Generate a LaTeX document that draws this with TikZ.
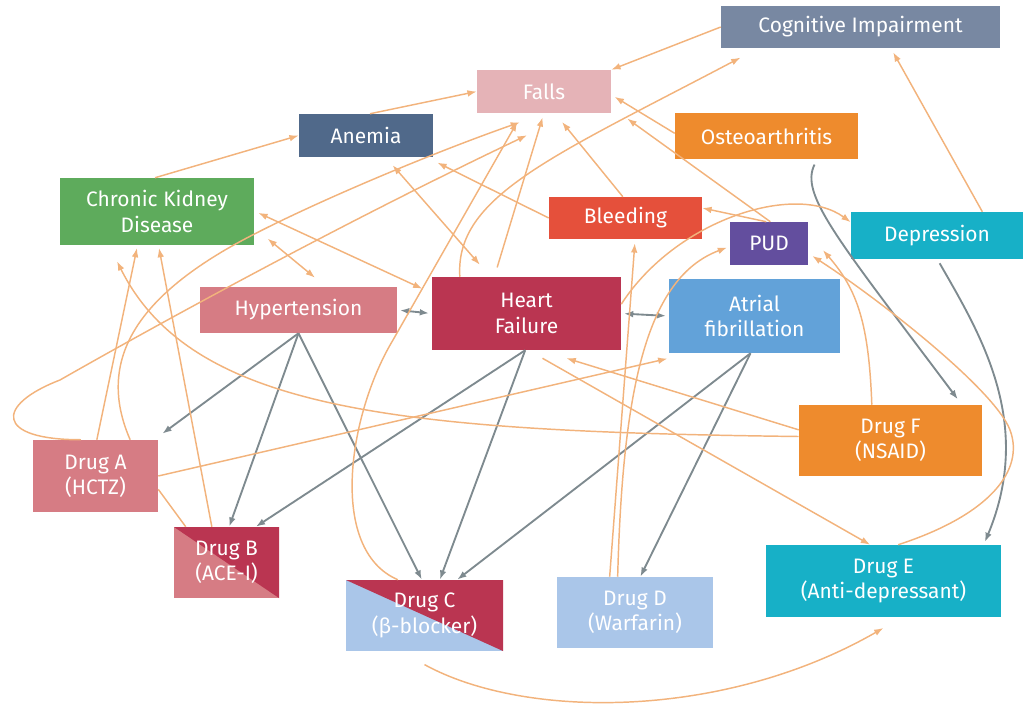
\documentclass[tikz,border=0pt]{standalone}
\usepackage{fontspec}
\setmainfont{Fira Sans}
\usetikzlibrary{arrows.meta}
\definecolor{cogcol}{HTML}{7888A2}
\definecolor{fallcol}{HTML}{E5B3B7}
\definecolor{anecol}{HTML}{50698A}
\definecolor{orgcol}{HTML}{EE8B2D}
\definecolor{ckdcol}{HTML}{5EAB5C}
\definecolor{bleedcol}{HTML}{E5503B}
\definecolor{pudcol}{HTML}{634E9E}
\definecolor{cyancol}{HTML}{17B0C7}
\definecolor{htncol}{HTML}{D67C84}
\definecolor{hfcol}{HTML}{BA3551}
\definecolor{afcol}{HTML}{62A2D9}
\definecolor{paleblue}{HTML}{AAC6E9}
\definecolor{linkorange}{HTML}{F2B37C}
\definecolor{linkgray}{HTML}{7E8A8F}

\begin{document}
\begin{tikzpicture}[
  x=0.75pt,y=-0.75pt,
  box/.style={rectangle,align=center,text=white,inner sep=1pt,
    font=\fontsize{15.7}{19}\selectfont},
  halfhf/.style={path picture={\fill[hfcol]
    (path picture bounding box.north west) --
    (path picture bounding box.north east) --
    (path picture bounding box.south east) -- cycle;}},
  arr/.style={-{Latex[length=7pt,width=5pt]},linkgray,line width=1.4pt},
  rel/.style={-{Latex[length=7pt,width=5pt]},linkorange,line width=1.1pt}
]
\useasboundingbox (0,0) rectangle (1026,715);

% conditions
\node[box,fill=cogcol,minimum width=209.25pt,minimum height=31.5pt] (cog) at (860.5,27) {Cognitive Impairment};
\node[box,fill=fallcol,minimum width=100.5pt,minimum height=32.25pt] (falls) at (544,91.5) {Falls};
\node[box,fill=anecol,minimum width=100.5pt,minimum height=32.25pt] (anemia) at (366,135.5) {Anemia};
\node[box,fill=orgcol,minimum width=137.25pt,minimum height=34.5pt] (osteo) at (766.5,136) {Osteoarthritis};
\node[box,fill=ckdcol,minimum width=145.5pt,minimum height=50.25pt] (ckd) at (157,211.5) {Chronic Kidney\\Disease};
\node[box,fill=bleedcol,minimum width=114.75pt,minimum height=31.5pt] (bleed) at (625.5,218) {Bleeding};
\node[box,fill=pudcol,minimum width=58.5pt,minimum height=32.25pt] (pud) at (769,243.5) {PUD};
\node[box,fill=cyancol,minimum width=129pt,minimum height=35.25pt] (dep) at (937,235.5) {Depression};
\node[box,fill=htncol,minimum width=147.75pt,minimum height=34.5pt] (htn) at (298.5,310) {Hypertension};
\node[box,fill=hfcol,minimum width=141.75pt,minimum height=54.75pt] (hf) at (526.5,313.5) {Heart\\Failure};
\node[box,fill=afcol,minimum width=128.25pt,minimum height=55.5pt] (af) at (754.5,316) {Atrial\\fibrillation};

% drugs
\node[box,fill=orgcol,minimum width=137.25pt,minimum height=53.25pt] (drugF) at (890.5,440.5) {Drug F\\(NSAID)};
\node[box,fill=htncol,minimum width=93.75pt,minimum height=54pt] (drugA) at (95.5,476) {Drug A\\(HCTZ)};
\node[box,fill=htncol,halfhf,minimum width=78.75pt,minimum height=53.25pt] (drugB) at (226.5,562.5) {Drug B\\(ACE-I)};
\node[box,fill=paleblue,halfhf,minimum width=117.75pt,minimum height=53.25pt] (drugC) at (424.5,615.5) {Drug C\\(β-blocker)};
\node[box,fill=paleblue,minimum width=117pt,minimum height=53.25pt] (drugD) at (635,612.5) {Drug D\\(Warfarin)};
\node[box,fill=cyancol,minimum width=176.25pt,minimum height=54pt] (drugE) at (883.5,581) {Drug E\\(Anti-depressant)};

% treatment links
\draw[arr] (htn.south) -- ([xshift=3pt,yshift=4.5pt]drugA.north east);
\draw[arr] (htn.south) -- ([xshift=2pt]drugB.north);
\draw[arr] (htn.south) -- ([xshift=-2pt]drugC.north);
\draw[arr] ([xshift=-1pt]hf.south) -- ([xshift=22pt]drugB.north);
\draw[arr] ([xshift=-1pt]hf.south) -- ([xshift=11.5pt]drugC.north);
\draw[arr] ([xshift=-3pt]af.south) -- ([xshift=24.5pt]drugC.north);
\draw[arr] ([xshift=-3pt]af.south) -- ([xshift=4pt]drugD.north);
\draw[arr,{Latex[length=7pt,width=5pt]}-{Latex[length=7pt,width=5pt]},shorten <=2pt,shorten >=2pt] (htn.east) -- (hf.west);
\draw[arr,{Latex[length=7pt,width=5pt]}-{Latex[length=7pt,width=5pt]},shorten <=2pt,shorten >=2pt] (hf.east) -- (af.west);
\draw[arr] ([xshift=36pt,yshift=-4pt]osteo.south) .. controls +(-15,30) and +(-120,-160) .. ([xshift=50.5pt,yshift=4pt]drugF.north);
\draw[arr] ([xshift=2pt,yshift=-3pt]dep.south) .. controls +(40,70) and +(50,-120) .. ([xshift=76pt,yshift=2pt]drugE.north);

% adverse links
\draw[rel] ([xshift=-1.5pt]ckd.north) -- (anemia.west);
\draw[rel] ([xshift=3pt]anemia.north) -- (falls.west);
\draw[rel] (cog.west) -- (falls.north east);
\draw[rel] ([xshift=-50pt]hf.north) .. controls +(-5,-80) and +(-190,100) .. ([xshift=-90pt,yshift=-7pt]cog.south);
\draw[rel] ([xshift=-20pt]drugC.north) .. controls +(-70,-30) and +(-45,75) .. (393,340) -- ([xshift=-20pt,yshift=-6.5pt]falls.south);
\draw[rel] ([xshift=-11pt]drugA.north) .. controls +(-86,0) and +(-65,25) .. (60,380) .. controls +(70,-40) and +(-200,95) .. ([xshift=-12.75pt,yshift=-16.5pt]falls.south);
\draw[rel] ([xshift=26pt]drugA.north) .. controls +(-35,-80) and +(-85,50) .. (225,250) .. controls +(60,-35) and +(-100,35) .. ([xshift=-18pt,yshift=-6.75pt]falls.south);
\draw[rel] ([xshift=1pt]drugA.north) -- ([xshift=-15pt,yshift=-2pt]ckd.south);
\draw[rel] ([xshift=-11pt]drugB.north) -- ([xshift=1.5pt,yshift=-2pt]ckd.south);
\draw[rel] ([yshift=3pt]drugF.west) .. controls +(-400,-5) and +(75,150) .. ([xshift=-30pt,yshift=-12pt]ckd.south);
\draw[rel] (drugA.east) -- ([xshift=-1pt,yshift=-4pt]af.south west);
\draw[linkorange,line width=1.1pt] ([yshift=-10pt]drugA.east) -- ([xshift=9pt]drugB.north west);
\draw[rel] ([yshift=8pt]drugF.west) -- ([xshift=30pt,yshift=-6pt]hf.south);
\draw[rel] ([xshift=12pt,yshift=-6pt]hf.south) -- ([xshift=-10pt]drugE.north);
\draw[rel] ([xshift=-19pt]drugD.north) -- ([xshift=7pt,yshift=-3pt]bleed.south);
\draw[rel] ([xshift=-13pt]drugD.north) .. controls +(5,-190) and +(-80,30) .. ([xshift=-2pt,yshift=-3pt]pud.west);
\draw[rel] ([yshift=7pt]hf.east) .. controls +(55,-85) and +(-55,-40) .. ([yshift=10pt]dep.west);
\draw[rel] ([xshift=-2pt]pud.north) -- ([yshift=7.5pt]bleed.east);
\draw[rel] ([xshift=1pt]pud.north) -- ([xshift=12pt,yshift=-4pt]falls.south east);
\draw[rel] ([yshift=2pt]osteo.west) -- ([xshift=2.5pt,yshift=-4pt]falls.east);
\draw[rel] ([xshift=-2pt]bleed.north) -- ([xshift=13.5pt,yshift=-6.5pt]falls.south);
\draw[rel] ([xshift=-22pt,yshift=7pt]hf.north) -- ([xshift=-1pt,yshift=-3pt]falls.south);
\draw[rel] (bleed.west) -- ([xshift=3pt,yshift=-4pt]anemia.south east);
\draw[rel,{Latex[length=7pt,width=5pt]}-{Latex[length=7pt,width=5pt]}] ([xshift=20pt,yshift=-6pt]anemia.south) -- ([xshift=-35pt,yshift=9pt]hf.north);
\draw[rel,{Latex[length=7pt,width=5pt]}-{Latex[length=7pt,width=5pt]}] ([xshift=3pt,yshift=-1pt]ckd.east) -- ([xshift=-7pt,yshift=-9pt]hf.north west);
\draw[rel,{Latex[length=7pt,width=5pt]}-{Latex[length=7pt,width=5pt]}] ([xshift=10pt,yshift=5pt]ckd.south east) -- ([xshift=12.4pt,yshift=6.75pt]htn.north);
\draw[rel] ([xshift=34pt]dep.north) -- ([xshift=24.5pt,yshift=-3pt]cog.south);
\draw[rel] ([xshift=11pt]drugE.north) .. controls +(92,-30) and +(15,40) .. (1010,430) .. controls +(-15,-40) and +(68,44) .. ([xshift=3pt,yshift=7pt]pud.south east);
\draw[rel] ([xshift=-14pt]drugF.north) .. controls +(-3,-80) and +(35,40) .. ([xshift=11pt,yshift=-5pt]pud.east);
\draw[rel] ([yshift=-10pt]drugC.south) .. controls +(100,55) and +(-160,92) .. ([yshift=-8pt]drugE.south);
\end{tikzpicture}
\end{document}
